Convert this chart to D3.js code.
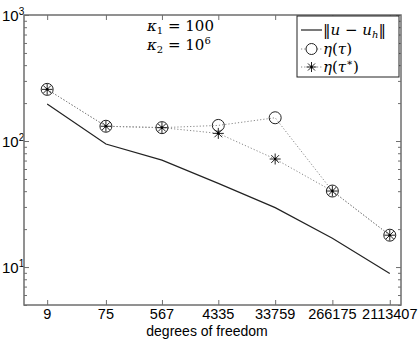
<!DOCTYPE html>
<html><head><meta charset="utf-8">
<script src="https://cdn.jsdelivr.net/npm/d3@7"></script>
<style>body{margin:0;background:#fff}svg{display:block}
.serif{font-family:"DejaVu Serif","Liberation Serif",serif}
.sans{font-family:"Liberation Sans",Arial,sans-serif}
</style>
</head><body>
<script>
const dofs = [9, 75, 567, 4335, 33759, 266175, 2113407];
const errNorm = [197, 94.6, 70.6, 46.1, 29.6, 16.9, 8.9];
const etaTau = [257, 131, 127.7, 133, 153, 40.1, 17.9];
const etaTauStar = [257, 131, 127.7, 115, 72, 40.1, 17.9];
const yTickExps = [1, 2, 3];

const W = 420, H = 339;
const L = 24, R = 401, T = 15, B = 305;
const svg = d3.select("body").append("svg").attr("width", W).attr("height", H);

const x = d3.scaleLog().domain([3.9, 3.17e6]).range([L, R]);
const y = d3.scaleLog().domain([5, 1000]).range([B, T]);

const frameColor = "#6e6e6e";

const minor = [];
for (let e = 0; e < 3; e++) for (let m = 1; m <= 9; m++) {
  const v = m * Math.pow(10, e);
  if (v >= 5 && v <= 1000) minor.push(v);
}
minor.push(1000);
const isMajor = d => Math.abs(Math.log10(d) - Math.round(Math.log10(d))) < 1e-9;

const g = svg.append("g");
g.append("g").attr("transform", `translate(${L},0)`)
  .call(d3.axisRight(y).tickValues(minor).tickSize(0).tickFormat(""))
  .call(s => s.selectAll(".tick line").attr("x2", d => isMajor(d) ? 5 : 3).attr("stroke", frameColor))
  .call(s => s.select(".domain").remove());
g.append("g").attr("transform", `translate(${R},0)`)
  .call(d3.axisLeft(y).tickValues(minor).tickSize(0).tickFormat(""))
  .call(s => s.selectAll(".tick line").attr("x2", d => isMajor(d) ? -5 : -3).attr("stroke", frameColor))
  .call(s => s.select(".domain").remove());
g.append("g").attr("transform", `translate(0,${B})`)
  .call(d3.axisTop(x).tickValues(dofs).tickSize(5).tickFormat(""))
  .call(s => s.selectAll(".tick line").attr("stroke", frameColor))
  .call(s => s.select(".domain").remove());
g.append("g").attr("transform", `translate(0,${T})`)
  .call(d3.axisBottom(x).tickValues(dofs).tickSize(5).tickFormat(""))
  .call(s => s.selectAll(".tick line").attr("stroke", frameColor))
  .call(s => s.select(".domain").remove());

svg.append("g").attr("class", "sans").selectAll("text").data(dofs).join("text")
  .attr("x", d => x(d)).attr("y", 319)
  .attr("text-anchor", "middle")
  .attr("font-size", 14.5).attr("fill", "#000")
  .text(d => d);
svg.append("text").attr("class", "sans").attr("x", 207).attr("y", 335.5).attr("text-anchor", "middle")
  .attr("font-size", 14).text("degrees of freedom");

const yl = svg.append("g").attr("class", "sans").selectAll("text").data(yTickExps).join("text")
  .attr("x", 2).attr("y", d => y(Math.pow(10, d)) + 6)
  .attr("font-size", 15);
yl.append("tspan").text("10");
yl.append("tspan").attr("dy", -6).attr("font-size", 10).text(d => d);

svg.append("rect").attr("x", L).attr("y", T).attr("width", R - L).attr("height", B - T)
  .attr("fill", "none").attr("stroke", frameColor).attr("stroke-width", 1.5);

const line = vals => d3.line().x((d, i) => x(dofs[i])).y(d => y(d))(vals);
svg.append("path").attr("d", line(errNorm)).attr("fill", "none").attr("stroke", "#222").attr("stroke-width", 1.2);
svg.append("path").attr("d", line(etaTau)).attr("fill", "none").attr("stroke", "#888").attr("stroke-width", 1).attr("stroke-dasharray", "1.2,2");
svg.append("path").attr("d", line(etaTauStar)).attr("fill", "none").attr("stroke", "#888").attr("stroke-width", 1).attr("stroke-dasharray", "1.2,2");

function star(sel, cx, cy, r) {
  const gg = sel.append("g").attr("stroke", "#222").attr("stroke-width", 1);
  for (let k = 0; k < 4; k++) {
    const a = k * Math.PI / 4;
    gg.append("line").attr("x1", cx - r * Math.cos(a)).attr("y1", cy - r * Math.sin(a))
      .attr("x2", cx + r * Math.cos(a)).attr("y2", cy + r * Math.sin(a));
  }
  gg.append("circle").attr("cx", cx).attr("cy", cy).attr("r", 1.3).attr("fill", "#000").attr("stroke", "none");
}
svg.append("g").selectAll("circle").data(etaTau).join("circle")
  .attr("cx", (d, i) => x(dofs[i])).attr("cy", d => y(d)).attr("r", 6)
  .attr("fill", "none").attr("stroke", "#222").attr("stroke-width", 1);
const sg = svg.append("g");
etaTauStar.forEach((d, i) => star(sg, x(dofs[i]), y(d), 5.5));

// annotation
const ann = svg.append("g").attr("class", "serif").attr("font-size", 15);
const a1 = ann.append("text").attr("x", 147).attr("y", 31);
a1.append("tspan").attr("font-style", "italic").text("κ");
a1.append("tspan").attr("font-size", 10).attr("dy", 3).text("1");
a1.append("tspan").attr("dy", -3).text(" = 100");
const a2 = ann.append("text").attr("x", 147).attr("y", 50);
a2.append("tspan").attr("font-style", "italic").text("κ");
a2.append("tspan").attr("font-size", 10).attr("dy", 3).text("2");
a2.append("tspan").attr("dy", -3).text(" = 10");
a2.append("tspan").attr("font-size", 10).attr("dy", -6).text("6");

// legend
const lg = svg.append("g");
lg.append("rect").attr("x", 297).attr("y", 16).attr("width", 102).attr("height", 61)
  .attr("fill", "#fff").attr("stroke", "#222").attr("stroke-width", 1);
lg.append("line").attr("x1", 301).attr("x2", 322).attr("y1", 30).attr("y2", 30).attr("stroke", "#222").attr("stroke-width", 1.2);
lg.append("line").attr("x1", 301).attr("x2", 322).attr("y1", 49).attr("y2", 49).attr("stroke", "#888").attr("stroke-dasharray", "1.2,2");
lg.append("circle").attr("cx", 311.5).attr("cy", 49).attr("r", 5.5).attr("fill", "#fff").attr("stroke", "#222");
lg.append("line").attr("x1", 301).attr("x2", 322).attr("y1", 67).attr("y2", 67).attr("stroke", "#888").attr("stroke-dasharray", "1.2,2");
star(lg, 311.5, 67, 5);
const t1 = lg.append("text").attr("class", "serif").attr("x", 323).attr("y", 35).attr("font-size", 15);
t1.append("tspan").text("‖");
t1.append("tspan").attr("font-style", "italic").text("u");
t1.append("tspan").text(" − ");
t1.append("tspan").attr("font-style", "italic").text("u");
t1.append("tspan").attr("font-style", "italic").attr("font-size", 10).attr("dy", 3).text("h");
t1.append("tspan").attr("dy", -3).text("‖");
const t2 = lg.append("text").attr("class", "serif").attr("x", 323).attr("y", 54).attr("font-size", 15);
t2.append("tspan").attr("font-style", "italic").text("η");
t2.append("tspan").text("(");
t2.append("tspan").attr("font-style", "italic").text("τ");
t2.append("tspan").text(")");
const t3 = lg.append("text").attr("class", "serif").attr("x", 323).attr("y", 72).attr("font-size", 15);
t3.append("tspan").attr("font-style", "italic").text("η");
t3.append("tspan").text("(");
t3.append("tspan").attr("font-style", "italic").text("τ");
t3.append("tspan").attr("font-size", 10).attr("dy", -6).text("∗");
t3.append("tspan").attr("dy", 6).text(")");
</script>
</body></html>
